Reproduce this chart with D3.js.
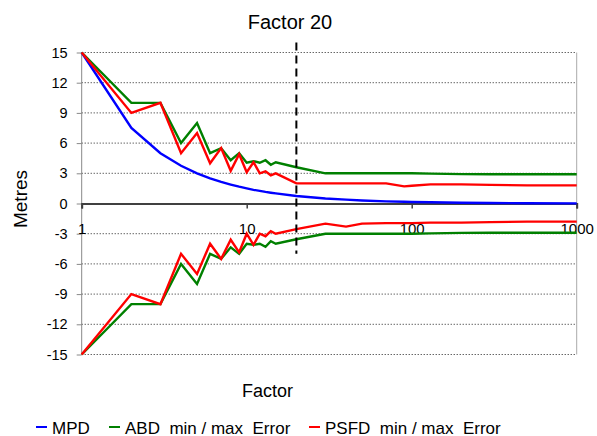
<!DOCTYPE html>
<html>
<head>
<meta charset="utf-8">
<script src="https://cdn.jsdelivr.net/npm/d3@7"></script>
<style>
  body { margin: 0; background: #fff; }
  svg text { font-family: Arial, "Liberation Sans", sans-serif; fill: #000; }
</style>
</head>
<body>
<svg id="chart" width="597" height="436"></svg>
<script>
// factors on the x axis (log scale)
const factors = [1, 2, 3, 4, 5, 6, 7, 8, 9, 10, 11, 12, 13, 14, 15, 20, 30, 40, 50, 70, 90, 100, 130, 200, 300, 500, 1000]

// series values, one per factor
const mpd = [15, 7.5, 5, 3.75, 3, 2.5, 2.14, 1.88, 1.67, 1.5, 1.36, 1.25, 1.15, 1.07, 1, 0.75, 0.5, 0.38, 0.3, 0.21, 0.17, 0.15, 0.12, 0.08, 0.05, 0.03, 0.015]
const abdMax = [15, 10, 10, 6, 8, 5, 5.5, 4.3, 5, 4.05, 4.2, 4.05, 4.3, 3.85, 4.1, 3.6, 3, 3, 3, 3, 3, 3, 2.97, 2.92, 2.9, 2.9, 2.9]
const abdMin = [-15, -10, -10, -6, -8, -5, -5.5, -4.35, -5, -4, -4.1, -4, -4.3, -3.75, -4, -3.55, -3, -3, -3, -3, -3, -3, -2.97, -2.92, -2.9, -2.9, -2.9]
const psfdMax = [15, 9, 10, 5, 7, 4, 5.5, 3.25, 4.9, 3.1, 4.1, 3, 3.2, 2.8, 3, 2, 2, 2, 2, 2, 1.7, 1.76, 1.9, 1.9, 1.85, 1.8, 1.8]
const psfdMin = [-15, -9, -10, -5, -7, -4, -5.5, -3.6, -4.85, -3, -4.1, -3, -3.25, -2.75, -3, -2.55, -2, -2.3, -2, -1.95, -1.95, -1.95, -1.9, -1.9, -1.85, -1.8, -1.8]

const yTicks = [-15, -12, -9, -6, -3, 0, 3, 6, 9, 12, 15]
const xTicks = [1, 10, 100, 1000]
const legendNames = ["MPD", "ABD  min / max  Error", "PSFD  min / max  Error"]
const colors = ["#0000ff", "#008000", "#ff0000"]
const marker = 20

const svg = d3.select("#chart")

let x = d3.scaleLog().domain([1, 1000]).range([81.7, 576.7])
let y = d3.scaleLinear().domain([-15, 15]).range([354.5, 52.5])

//dotted grid
svg.append("g").selectAll("line").data(yTicks.filter(d => d != 0)).enter().append("line")
  .attr("x1", x(1)).attr("x2", x(1000))
  .attr("y1", d => y(d)).attr("y2", d => y(d))
  .attr("stroke", "#222").attr("stroke-width", 1).attr("stroke-dasharray", "1,2")

//frame: left axis + right border
svg.append("line").attr("x1", x(1)).attr("x2", x(1)).attr("y1", y(15)).attr("y2", y(-15)).attr("stroke", "#888")
svg.append("line").attr("x1", x(1000)).attr("x2", x(1000)).attr("y1", y(15)).attr("y2", y(-15)).attr("stroke", "#aaa")

//y axis
let yAxis = svg.append("g").attr("transform", `translate(${x(1)},0)`)
  .call(d3.axisLeft(y).tickValues(yTicks).tickSize(5).tickPadding(9).tickFormat(d => String(d)))
yAxis.select(".domain").remove()
yAxis.selectAll(".tick line").attr("stroke", "#888")
yAxis.selectAll("text").attr("font-size", 14.5).attr("font-family", null)

//x axis sits on zero
let xAxis = svg.append("g").attr("transform", `translate(0,${y(0)})`)
  .call(d3.axisBottom(x).tickValues(xTicks).tickSize(5).tickPadding(15).tickFormat(d => String(d)))
xAxis.select(".domain").attr("stroke", "#404040").attr("stroke-width", 2)
xAxis.selectAll(".tick line").attr("stroke", "#404040").attr("stroke-width", 1.5)
xAxis.selectAll("text").attr("font-size", 15).attr("font-family", null)

//lines
const line = d3.line().x((d, i) => x(factors[i])).y(d => y(d))
const series = [
  { v: mpd, c: colors[0] },
  { v: abdMax, c: colors[1] },
  { v: abdMin, c: colors[1] },
  { v: psfdMax, c: colors[2] },
  { v: psfdMin, c: colors[2] }
]
svg.append("g").selectAll("path").data(series).enter().append("path")
  .attr("d", d => line(d.v))
  .attr("fill", "none").attr("stroke", d => d.c).attr("stroke-width", 2.4)
  .attr("stroke-linejoin", "miter")

//factor 20 marker
svg.append("line").attr("x1", x(marker)).attr("x2", x(marker)).attr("y1", y(16)).attr("y2", y(-5))
  .attr("stroke", "#000").attr("stroke-width", 2).attr("stroke-dasharray", "8,5")
svg.append("text").attr("x", 290).attr("y", 29).attr("text-anchor", "middle").attr("font-size", 20).text("Factor " + marker)

//axis titles
svg.append("text").attr("x", 267.5).attr("y", 396.5).attr("text-anchor", "middle").attr("font-size", 18).text("Factor")
svg.append("text").attr("transform", "translate(27,199) rotate(-90)").attr("text-anchor", "middle").attr("font-size", 19).text("Metres")

//legend
const legendX = [36, 109, 309]
let leg = svg.append("g").selectAll("g").data(legendNames).enter().append("g")
  .attr("transform", (d, i) => `translate(${legendX[i]},427)`)
leg.append("line").attr("x1", 0).attr("x2", 11).attr("stroke", (d, i) => colors[i]).attr("stroke-width", 2)
leg.append("text").attr("x", 16).attr("y", 6.5).attr("font-size", 17).style("white-space", "pre").text(d => d)
</script>
</body>
</html>
